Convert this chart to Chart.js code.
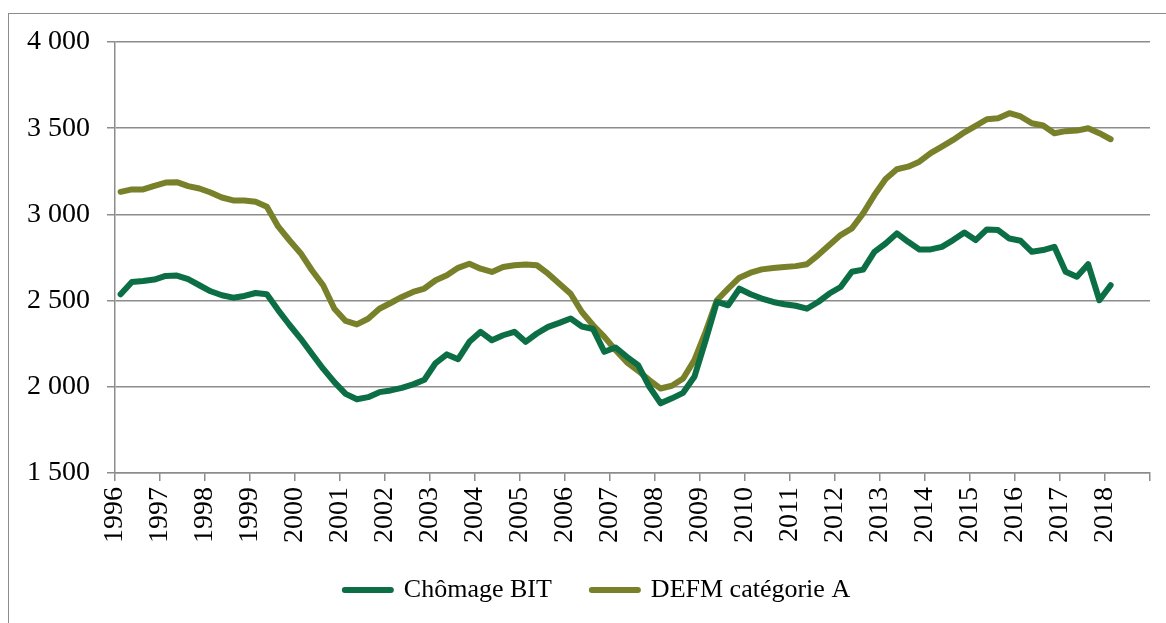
<!DOCTYPE html>
<html>
<head>
<meta charset="utf-8">
<script src="https://cdn.jsdelivr.net/npm/chart.js@4/dist/chart.umd.min.js"></script>
<style>
  html, body { margin: 0; padding: 0; background: #fff; }
  .wrapper { position: relative; width: 1166px; height: 623px; overflow: hidden; }
  .frame {
    position: absolute; left: 8px; top: 13px; width: 1200px; height: 700px;
    border: 1.5px solid #8c8c8c; box-sizing: border-box;
  }
  canvas { position: absolute; left: 0; top: 0; }
</style>
</head>
<body>
<div class="wrapper">
  <div class="frame"></div>
  <canvas id="chart" width="1166" height="623"></canvas>
</div>
<script>
// quarterly series, 1996 T1 -> 2018 T1 (milliers)
const firstYear = 1996;
const yearTicks = ["1996", "1997", "1998", "1999", "2000", "2001", "2002", "2003",
  "2004", "2005", "2006", "2007", "2008", "2009", "2010", "2011", "2012", "2013",
  "2014", "2015", "2016", "2017", "2018"];

const chomageBIT = [
  2537, 2608, 2614, 2622, 2643, 2645, 2624, 2589, 2554, 2531, 2517, 2527,
  2544, 2537, 2445, 2360, 2280, 2192, 2105, 2027, 1959, 1928, 1940, 1969,
  1979, 1994, 2014, 2041, 2138, 2188, 2160, 2261, 2319, 2270, 2299, 2319,
  2261, 2309, 2348, 2371, 2396, 2350, 2335, 2203, 2228, 2174, 2126, 2000,
  1904, 1933, 1965, 2058, 2270, 2492, 2473, 2569, 2537, 2512, 2492, 2479,
  2470, 2453, 2492, 2541, 2579, 2667, 2680, 2783, 2831, 2890, 2841, 2797,
  2797, 2812, 2851, 2895, 2851, 2913, 2909, 2860, 2847, 2783, 2793, 2812,
  2667, 2638, 2711, 2502, 2589
];

const defmCatA = [
  3131, 3145, 3145, 3166, 3185, 3187, 3164, 3150, 3127, 3098, 3081, 3081,
  3073, 3044, 2930, 2850, 2775, 2676, 2589, 2453, 2382, 2362, 2395, 2453,
  2486, 2521, 2550, 2570, 2618, 2647, 2690, 2714, 2685, 2666, 2695, 2705,
  2710, 2705, 2656, 2598, 2540, 2434, 2357, 2290, 2212, 2142, 2093, 2039,
  1990, 2006, 2048, 2155, 2319, 2502, 2569, 2633, 2662, 2681, 2689, 2695,
  2700, 2711, 2764, 2822, 2880, 2919, 3006, 3112, 3205, 3262, 3277, 3306,
  3355, 3393, 3432, 3476, 3514, 3552, 3558, 3587, 3568, 3529, 3516, 3471,
  3483, 3486, 3500, 3471, 3436
];

const seriesNames = ["Chômage BIT", "DEFM catégorie A"];
const seriesColors = ["#0b6e45", "#78802a"];

// each quarter sits in the middle of its quarter on the date axis
function toPoints(values) {
  return values.map((v, i) => ({ x: firstYear + 0.125 + i * 0.25, y: v }));
}

function formatThousands(v) {
  return String(v).replace(/\B(?=(\d{3})+(?!\d))/g, " ");
}

const font = "'Liberation Serif', 'DejaVu Serif', serif";
const axisGrey = "#8c8c8c";

// the legend in the original sits a bit right of the middle and a bit higher
const legendShift = {
  id: "legendShift",
  afterLayout(chart) {
    if (chart.legend) {
      chart.legend.left += 45;
      chart.legend.top -= 10;
      chart.legend.bottom -= 10;
    }
  },
};

function setChart() {
  const data = {
    datasets: [
      {
        label: seriesNames[0],
        data: toPoints(chomageBIT),
        borderColor: seriesColors[0],
        backgroundColor: seriesColors[0],
        borderWidth: 6,
      },
      {
        label: seriesNames[1],
        data: toPoints(defmCatA),
        borderColor: seriesColors[1],
        backgroundColor: seriesColors[1],
        borderWidth: 6,
      },
    ],
  };

  const config = {
    type: "line",
    data: data,
    plugins: [legendShift],
    options: {
      responsive: false,
      animation: false,
      layout: {
        padding: { left: 0, right: 16, top: 42, bottom: 0 },
      },
      elements: {
        point: { radius: 0 },
        line: { tension: 0, borderCapStyle: "round", borderJoinStyle: "round" },
      },
      scales: {
        x: {
          type: "linear",
          min: 1996,
          max: 2019,
          afterFit: (scale) => {
            scale.height = 74;
            scale.paddingLeft = 0;
            scale.paddingRight = 0;
          },
          ticks: {
            stepSize: 1,
            autoSkip: false,
            minRotation: 90,
            maxRotation: 90,
            padding: 6,
            color: "#000",
            font: { family: font, size: 28 },
            callback: (value, index) => yearTicks[index] ?? "",
          },
          grid: {
            drawOnChartArea: false,
            drawTicks: true,
            tickLength: 8,
            color: axisGrey,
            lineWidth: 1.5,
          },
          border: { display: true, color: axisGrey, width: 1.5 },
        },
        y: {
          min: 1500,
          max: 4000,
          afterFit: (scale) => {
            scale.width = 115;
          },
          ticks: {
            stepSize: 500,
            padding: 17,
            color: "#000",
            font: { family: font, size: 28 },
            callback: (value) => formatThousands(value),
          },
          grid: {
            color: axisGrey,
            lineWidth: 1.5,
            tickLength: 8,
          },
          border: { display: true, color: axisGrey, width: 1.5 },
        },
      },
      plugins: {
        legend: {
          position: "bottom",
          labels: {
            boxWidth: 46,
            boxHeight: 0,
            padding: 40,
            color: "#000",
            font: { family: font, size: 26 },
          },
        },
        tooltip: { enabled: false },
      },
    },
  };

  new Chart(document.querySelector("#chart"), config);
}

setChart();
</script>
</body>
</html>
